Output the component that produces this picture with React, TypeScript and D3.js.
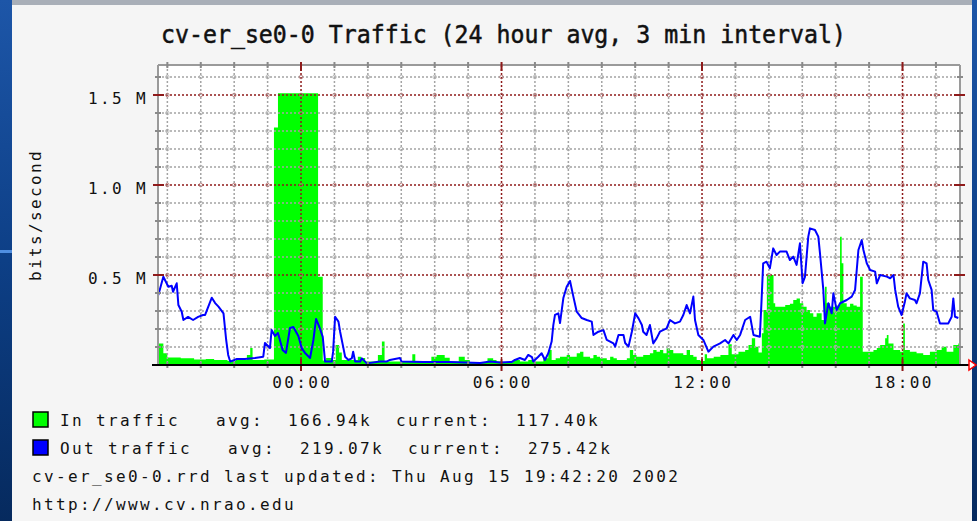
import React from "react";
import * as d3 from "d3";

// time in hours relative to midnight of Aug 15, values in kbit/s
const inTraffic: [number, number][] = [
  [-4.28, 120], [-4.12, 65], [-4.0, 42], [-3.6, 37], [-3.2, 30], [-2.85, 34], [-2.6, 28],
  [-2.2, 22], [-1.95, 28], [-1.62, 55], [-1.52, 94], [-1.45, 28], [-1.1, 30], [-0.81, 1320],
  [-0.69, 1510], [0.51, 490], [0.65, 25], [0.75, 39], [0.95, 28], [1.04, 111], [1.14, 70],
  [1.22, 28], [1.7, 46], [1.8, 39], [1.92, 20], [2.3, 55], [2.42, 130], [2.5, 19], [3.33, 60],
  [3.42, 19], [3.9, 46], [4.06, 55], [4.3, 40], [4.45, 19], [4.72, 46], [4.9, 28], [5.05, 15],
  [5.58, 37], [5.75, 28], [5.85, 20], [6.0, 15], [6.35, 28], [6.55, 19], [6.8, 28], [6.95, 19],
  [7.25, 37], [7.4, 83], [7.5, 28], [7.62, 37], [7.75, 46], [7.95, 55], [8.05, 46], [8.25, 65],
  [8.35, 74], [8.45, 46], [8.65, 37], [8.75, 55], [8.85, 46], [8.95, 37], [9.15, 28], [9.25, 46],
  [9.35, 37], [9.45, 28], [9.75, 37], [9.84, 83], [9.94, 55], [10.04, 46], [10.24, 55],
  [10.44, 65], [10.54, 83], [10.64, 74], [10.74, 83], [10.84, 65], [10.94, 93], [11.04, 83],
  [11.14, 65], [11.44, 55], [11.54, 83], [11.64, 55], [11.74, 46], [11.84, 28], [11.95, 22],
  [12.08, 60], [12.15, 37], [12.35, 46], [12.55, 55], [12.79, 115], [12.89, 60], [13.09, 74],
  [13.29, 83], [13.39, 111], [13.49, 148], [13.59, 102], [13.69, 70], [13.79, 176], [13.84, 305],
  [13.94, 500], [14.14, 343], [14.19, 324], [14.49, 333], [14.63, 340], [14.73, 361], [14.83, 370],
  [14.93, 343], [15.03, 324], [15.13, 305], [15.23, 287], [15.33, 268], [15.43, 287], [15.58, 250],
  [15.68, 435], [15.73, 343], [15.83, 324], [16.03, 330], [16.13, 713], [16.18, 565], [16.23, 343],
  [16.33, 324], [16.43, 340], [16.53, 330], [16.63, 324], [16.73, 490], [16.81, 74], [17.13, 83],
  [17.23, 94], [17.33, 111], [17.48, 148], [17.53, 167], [17.58, 120], [17.73, 83], [17.93, 74],
  [18.02, 231], [18.07, 83], [18.22, 74], [18.42, 65], [18.62, 55], [18.82, 74], [19.02, 83],
  [19.17, 102], [19.32, 74], [19.52, 111], [19.67, 120],
];

const outTraffic: [number, number][] = [
  [-4.27, 389], [-4.12, 490], [-3.97, 435], [-3.87, 440], [-3.83, 407], [-3.72, 454], [-3.67, 333],
  [-3.57, 296], [-3.52, 250], [-3.38, 267], [-3.23, 250], [-3.08, 267], [-2.93, 278], [-2.87, 278],
  [-2.67, 374], [-2.57, 344], [-2.47, 324], [-2.32, 287], [-2.24, 139], [-2.18, 56], [-2.12, 19],
  [-1.92, 33], [-1.68, 33], [-1.38, 39], [-1.13, 46], [-1.08, 122], [-0.93, 94], [-0.88, 194],
  [-0.78, 161], [-0.69, 178], [-0.55, 83], [-0.45, 67], [-0.33, 206], [-0.23, 211], [-0.08, 161],
  [0.02, 94], [0.12, 67], [0.27, 39], [0.37, 139], [0.45, 256], [0.55, 211], [0.65, 156],
  [0.72, 19], [0.92, 19], [0.96, 74], [1.02, 268], [1.12, 241], [1.17, 185], [1.26, 102],
  [1.32, 46], [1.42, 28], [1.52, 37], [1.56, 74], [1.62, 19], [1.77, 19], [1.82, 37], [1.97, 9],
  [2.36, 19], [2.56, 19], [2.66, 28], [2.96, 39], [3.01, 19], [3.66, 17], [4.46, 17], [5.36, 11],
  [5.66, 19], [5.96, 14], [6.31, 17], [6.4, 28], [6.55, 39], [6.7, 28], [6.8, 56], [6.91, 44],
  [6.95, 19], [7.1, 46], [7.2, 65], [7.3, 28], [7.4, 65], [7.5, 130], [7.55, 222], [7.6, 278],
  [7.7, 287], [7.75, 233], [7.85, 372], [7.95, 435], [8.05, 467], [8.15, 380], [8.25, 296],
  [8.4, 261], [8.55, 250], [8.7, 241], [8.75, 167], [8.9, 185], [9.05, 194], [9.15, 139],
  [9.35, 120], [9.4, 102], [9.5, 167], [9.65, 167], [9.7, 122], [9.8, 102], [9.9, 185],
  [10.0, 287], [10.1, 259], [10.2, 222], [10.24, 185], [10.34, 167], [10.44, 222], [10.54, 120],
  [10.64, 148], [10.74, 185], [10.94, 204], [11.04, 250], [11.19, 231], [11.34, 241], [11.44, 278],
  [11.54, 333], [11.64, 287], [11.74, 380], [11.79, 250], [11.89, 167], [12.04, 139], [12.19, 74],
  [12.34, 102], [12.54, 120], [12.69, 139], [12.79, 120], [12.94, 167], [13.04, 139], [13.14, 167],
  [13.29, 250], [13.44, 268], [13.54, 167], [13.73, 157], [13.78, 352], [13.83, 565], [13.93, 574],
  [14.03, 537], [14.13, 648], [14.23, 611], [14.33, 630], [14.53, 630], [14.63, 583], [14.73, 602],
  [14.83, 556], [14.93, 676], [15.01, 454], [15.08, 490], [15.18, 713], [15.23, 759], [15.38, 750],
  [15.48, 713], [15.53, 620], [15.63, 417], [15.68, 231], [15.78, 343], [15.88, 287], [15.93, 398],
  [16.03, 305], [16.13, 343], [16.33, 361], [16.48, 380], [16.58, 417], [16.68, 639], [16.78, 694],
  [16.83, 639], [16.93, 565], [17.03, 528], [17.18, 519], [17.23, 454], [17.33, 500], [17.53, 491],
  [17.63, 482], [17.73, 500], [17.78, 417], [17.87, 324], [17.97, 278], [18.07, 352], [18.12, 398],
  [18.22, 370], [18.37, 361], [18.42, 343], [18.52, 398], [18.62, 574], [18.72, 565], [18.77, 472],
  [18.87, 417], [18.92, 305], [19.02, 296], [19.12, 231], [19.37, 231], [19.47, 268], [19.52, 370],
  [19.57, 268], [19.67, 261],
];

const yTickValues = [500, 1000, 1500];
const yTickLabels = ["0.5 M", "1.0 M", "1.5 M"];
const xTickHours = [0, 6, 12, 18];
const xTickLabels = ["00:00", "06:00", "12:00", "18:00"];

const title = "cv-er_se0-0 Traffic (24 hour avg, 3 min interval)";
const legendRows = [
  "In traffic   avg:  166.94k  current:  117.40k",
  "Out traffic   avg:  219.07k  current:  275.42k",
];
const legendColors = ["#00ff00", "#0000ff"];
const footerLines = [
  "cv-er_se0-0.rrd last updated: Thu Aug 15 19:42:20 2002",
  "http://www.cv.nrao.edu",
];

const W = 977;
const H = 521;
const left = 158, right = 960, top = 65, bottom = 365;
const mono = "'DejaVu Sans Mono', monospace";
const minorCol = "#a4a4a4";
const majorCol = "#8e1a1a";

export default function App() {
  const x = d3.scaleLinear().domain([-4.28, 19.72]).range([left, right]);
  const y = d3.scaleLinear().domain([0, 1666.7]).range([bottom, top]);

  const hours = d3.range(-4, 20);
  const levels = d3.range(100, 1700, 100);
  const isMajorH = (h: number) => h % 6 === 0;
  const isMajorV = (v: number) => v % 500 === 0;

  const inData = [...inTraffic, [19.72, inTraffic[inTraffic.length - 1][1]] as [number, number]];
  const area = d3.area<[number, number]>()
    .x(d => x(d[0]))
    .y0(y(0))
    .y1(d => y(d[1]))
    .curve(d3.curveStepAfter);
  const line = d3.line<[number, number]>()
    .x(d => x(d[0]))
    .y(d => y(d[1]));

  const txt = { fontFamily: mono, fontSize: 16, letterSpacing: 2.37, fill: "#111", whiteSpace: "pre" as const };

  return (
    <div style={{ position: "absolute", left: 0, top: 0 }}>
      <svg width={W} height={H} style={{ display: "block" }}>
        <defs>
          <linearGradient id="bg" x1="0" y1="0" x2="0" y2="1">
            <stop offset="0" stopColor="#1d56a8" />
            <stop offset="0.5" stopColor="#0d3f86" />
            <stop offset="1" stopColor="#062a5e" />
          </linearGradient>
        </defs>
        <rect x={0} y={0} width={W} height={H} fill="url(#bg)" />
        <rect x={0} y={250} width={12} height={3} fill="#4f8ee0" />
        <rect x={12} y={0} width={960} height={5} fill="#a9afb8" />
        <rect x={12} y={5} width={960} height={H - 5} fill="#f5f5f5" />

        {/* title */}
        <text x={161} y={43} textLength={685} lengthAdjust="spacingAndGlyphs"
          style={{ fontFamily: mono, fontSize: 25, fill: "#111", stroke: "#111", strokeWidth: 0.5 }}>{title}</text>

        {/* plot background */}
        <rect x={left} y={top} width={right - left} height={bottom - top} fill="#ffffff" />

        {/* in traffic */}
        <path d={area(inData) || ""} fill="#00ff00" />

        {/* grid */}
        {levels.map(v => (
          <line key={"h" + v} x1={left} x2={right} y1={y(v)} y2={y(v)}
            stroke={isMajorV(v) ? majorCol : minorCol} strokeWidth={1.5} strokeDasharray="2,2" />
        ))}
        {hours.map(h => (
          <line key={"v" + h} x1={x(h)} x2={x(h)} y1={top} y2={bottom}
            stroke={isMajorH(h) ? majorCol : minorCol} strokeWidth={1.5} strokeDasharray="2,2" />
        ))}
        {hours.map(h => levels.map(v => (
          <circle key={"c" + h + "_" + v} cx={x(h)} cy={y(v)} r={1.8} fill="none"
            stroke={isMajorH(h) || isMajorV(v) ? "#b07070" : "#b0b0b0"} strokeWidth={0.8} />
        )))}

        {/* out traffic */}
        <path d={line(outTraffic) || ""} fill="none" stroke="#0000ff" strokeWidth={2} strokeLinejoin="round" />

        {/* frame */}
        <line x1={left} x2={left} y1={top} y2={bottom} stroke="#9a9a9a" strokeWidth={2} />
        <line x1={left} x2={right} y1={top} y2={top} stroke="#9a9a9a" strokeWidth={2} />
        <line x1={right} x2={right} y1={top} y2={bottom} stroke="#9a9a9a" strokeWidth={2} />

        {/* y ticks left & right */}
        {levels.map(v => (
          <g key={"yt" + v}>
            <line x1={isMajorV(v) ? 153 : 155} x2={isMajorV(v) ? 164 : 161} y1={y(v)} y2={y(v)}
              stroke={isMajorV(v) ? majorCol : "#8a8a8a"} strokeWidth={2} />
            <line x1={isMajorV(v) ? right - 6 : right - 3} x2={isMajorV(v) ? right + 5 : right + 3} y1={y(v)} y2={y(v)}
              stroke={isMajorV(v) ? majorCol : "#8a8a8a"} strokeWidth={2} />
          </g>
        ))}
        {/* x ticks top & bottom */}
        {hours.map(h => (
          <g key={"xt" + h}>
            <line x1={x(h)} x2={x(h)} y1={top - 3} y2={isMajorH(h) ? top + 6 : top + 3}
              stroke={isMajorH(h) ? majorCol : "#8a8a8a"} strokeWidth={2} />
            <line x1={x(h)} x2={x(h)} y1={isMajorH(h) ? bottom - 6 : bottom - 3} y2={isMajorH(h) ? bottom + 6 : bottom + 3}
              stroke={isMajorH(h) ? majorCol : "#8a8a8a"} strokeWidth={2} />
          </g>
        ))}

        {/* x axis with arrow */}
        <line x1={152} x2={969} y1={bottom} y2={bottom} stroke="#000" strokeWidth={2} />
        <path d={`M969,${bottom - 5} L976,${bottom} L969,${bottom + 5} Z`} fill="#fff" stroke="#ff0000" strokeWidth={1.5} />

        {/* y labels */}
        {yTickValues.map((v, i) => (
          <text key={"yl" + v} x={148} y={y(v) + 9} textAnchor="end" style={txt}>{yTickLabels[i]}</text>
        ))}
        <text transform="translate(41,215) rotate(-90)" textAnchor="middle" style={txt}>bits/second</text>

        {/* x labels */}
        {xTickHours.map((h, i) => (
          <text key={"xl" + h} x={x(h) + 1.2} y={388} textAnchor="middle" style={txt}>{xTickLabels[i]}</text>
        ))}

        {/* legend */}
        {legendRows.map((r, i) => (
          <g key={"lg" + i}>
            <rect x={33} y={412 + i * 28} width={15} height={15} fill={legendColors[i]} stroke="#000" strokeWidth={1.5} />
            <text x={60} y={426 + i * 28} style={txt}>{r}</text>
          </g>
        ))}
        {footerLines.map((l, i) => (
          <text key={"ft" + i} x={32} y={482 + i * 28} style={txt}>{l}</text>
        ))}
      </svg>
    </div>
  );
}
